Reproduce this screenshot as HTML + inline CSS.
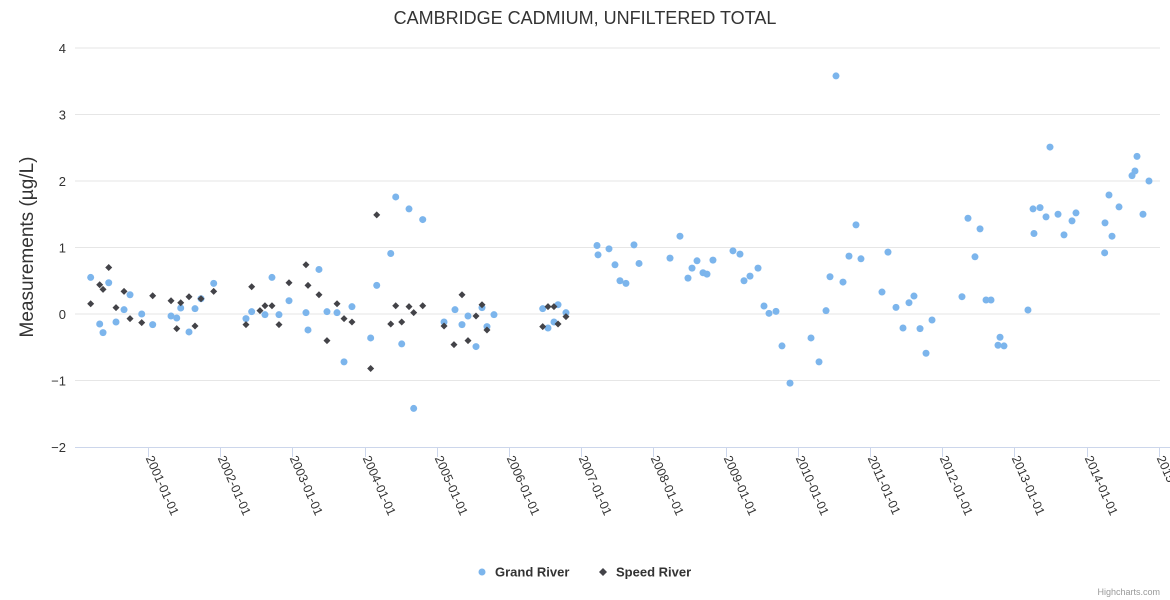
<!DOCTYPE html>
<html><head><meta charset="utf-8"><style>
body{margin:0;background:#fff;}
svg{display:block;font-family:"Liberation Sans","DejaVu Sans",sans-serif;}
</style></head><body>
<svg id="chart" width="1170" height="600" xmlns="http://www.w3.org/2000/svg">
<rect width="1170" height="600" fill="#fff"/>
<text x="585" y="24" text-anchor="middle" font-size="18" fill="#333">CAMBRIDGE CADMIUM, UNFILTERED TOTAL</text>
<text transform="translate(33,247) rotate(-90)" text-anchor="middle" font-size="19" fill="#333">Measurements (µg/L)</text>
<g id="grid"></g><g id="xaxis"></g><g id="marks"></g>
<g>
<g><circle cx="482" cy="572" r="3.5" fill="#7cb5ec"/><text x="495" y="576.5" font-size="13" font-weight="bold" fill="#333">Grand River</text></g>
<g><path d="M603 568 L607 572 L603 576 L599 572Z" fill="#434348"/><text x="616" y="576.5" font-size="13" font-weight="bold" fill="#333">Speed River</text></g>
</g>
<text x="1160" y="595" text-anchor="end" font-size="9" fill="#999">Highcharts.com</text>
</svg>
<script>
const yTicks=[-2,-1,0,1,2,3,4];
const xTickYears=[2001,2002,2003,2004,2005,2006,2007,2008,2009,2010,2011,2012,2013,2014,2015];
const grandX=[2000.206,2000.331,2000.377,2000.456,2000.557,2000.668,2000.751,2000.913,2001.065,2001.319,2001.398,2001.453,2001.568,2001.651,2001.734,2001.91,2002.357,2002.436,2002.62,2002.717,2002.814,2002.953,2003.188,2003.216,2003.368,2003.479,2003.618,2003.715,2003.825,
2004.084,2004.168,2004.362,2004.431,2004.514,2004.615,2004.680,2004.805,2005.100,2005.252,2005.349,2005.432,2005.543,2005.626,2005.695,2005.792,2006.467,2006.540,2006.623,2006.679,2006.789,2007.219,2007.233,2007.385,2007.468,2007.537,2007.620,2007.731,2007.801,
2008.230,2008.368,2008.479,2008.535,2008.604,2008.687,2008.742,2008.825,2009.102,2009.199,2009.255,2009.338,2009.449,2009.532,2009.601,2009.698,2009.781,2009.892,2010.183,2010.294,2010.391,2010.446,2010.529,2010.626,2010.709,2010.806,2010.875,
2011.166,2011.249,2011.360,2011.457,2011.540,2011.609,2011.693,2011.776,2011.859,2012.274,2012.357,2012.454,2012.524,2012.607,2012.676,2012.773,2012.801,2012.856,2013.188,2013.258,2013.271,2013.355,2013.438,2013.493,2013.604,2013.687,2013.798,2013.853,
2014.25,2014.255,2014.310,2014.352,2014.449,2014.629,2014.670,2014.698,2014.781,2014.864];
const grandY=[0.55,-0.15,-0.28,0.47,-0.12,0.065,0.29,0,-0.16,-0.03,-0.06,0.09,-0.27,0.08,0.23,0.46,-0.07,0.035,-0.01,0.55,-0.01,0.2,0.02,-0.24,0.67,0.035,0.02,-0.72,0.11,
-0.36,0.43,0.91,1.76,-0.45,1.58,-1.42,1.42,-0.12,0.065,-0.16,-0.03,-0.49,0.095,-0.19,-0.01,0.08,-0.21,-0.12,0.14,0.02,1.03,0.89,0.98,0.74,0.5,0.46,1.04,0.76,
0.84,1.17,0.54,0.69,0.8,0.62,0.6,0.81,0.95,0.9,0.5,0.57,0.69,0.12,0.01,0.04,-0.48,-1.04,-0.36,-0.72,0.05,0.56,3.58,0.48,0.87,1.34,0.83,
0.33,0.93,0.1,-0.21,0.17,0.27,-0.22,-0.59,-0.09,0.26,1.44,0.86,1.28,0.21,0.21,-0.47,-0.35,-0.48,0.06,1.58,1.21,1.6,1.46,2.51,1.5,1.19,1.4,1.52,
0.92,1.37,1.79,1.17,1.61,2.08,2.15,2.37,1.5,2.0];
const speedX=[2000.206,2000.331,2000.377,2000.456,2000.557,2000.668,2000.751,2000.913,2001.065,2001.319,2001.398,2001.453,2001.568,2001.651,2001.734,2001.91,2002.357,2002.436,2002.551,2002.62,2002.717,2002.814,2002.953,2003.188,2003.216,2003.368,2003.479,2003.618,2003.715,2003.825,
2004.084,2004.168,2004.362,2004.431,2004.514,2004.615,2004.680,2004.805,2005.100,2005.238,2005.349,2005.432,2005.543,2005.626,2005.695,2006.467,2006.540,2006.623,2006.679,2006.789];
const speedY=[0.155,0.44,0.37,0.7,0.095,0.34,-0.07,-0.13,0.275,0.2,-0.22,0.17,0.26,-0.18,0.23,0.34,-0.16,0.41,0.05,0.125,0.125,-0.16,0.47,0.74,0.43,0.29,-0.4,0.155,-0.07,-0.12,
-0.82,1.49,-0.15,0.125,-0.12,0.11,0.02,0.125,-0.18,-0.46,0.29,-0.4,-0.03,0.14,-0.24,-0.19,0.11,0.11,-0.15,-0.04];
const NS="http://www.w3.org/2000/svg";
const L=75,R=1160,y0=314,ypu=66.5,x2001=148,xpy=72.2;
const sx=v=>x2001+(v-2001)*xpy, sy=v=>y0-v*ypu;
function mk(t,a,p){const e=document.createElementNS(NS,t);for(const k in a)e.setAttribute(k,a[k]);p.appendChild(e);return e;}
const grid=document.getElementById('grid'),xa=document.getElementById('xaxis'),marks=document.getElementById('marks');
yTicks.forEach(v=>{
  if(v!==-2){const g=mk('line',{x1:L,x2:R,y1:sy(v),y2:sy(v),stroke:'#e6e6e6','stroke-width':1},grid);
  
  }
  const t=mk('text',{x:66,y:sy(v)+5,'text-anchor':'end','font-size':13,fill:'#333'},grid);
  t.textContent=v===-2?'−2':(v<0?'−'+(-v):v);
  
  
});
const ax=mk('line',{x1:L,x2:1170,y1:447.5,y2:447.5,stroke:'#ccd6eb','stroke-width':1},xa);


xTickYears.forEach(yv=>{
  const x=Math.round(sx(yv))+0.5;
  const tk=mk('line',{x1:x,x2:x,y1:447,y2:457,stroke:'#ccd6eb'},xa);
  
  
  const t=mk('text',{transform:`translate(${x-3},${458}) rotate(66)`,'font-size':12.5,fill:'#333'},xa);
  t.textContent=yv+'-01-01';
  
  
});
grandX.forEach((d,i)=>{
  const c=mk('circle',{cx:sx(d),cy:sy(grandY[i]),r:3.5,fill:'#7cb5ec'},marks);
  
  
});
speedX.forEach((d,i)=>{
  const x=sx(d),y=sy(speedY[i]);
  const p=mk('path',{d:`M${x} ${y-3.5}L${x+3.5} ${y}L${x} ${y+3.5}L${x-3.5} ${y}Z`,fill:'#434348'},marks);
  
  
});
</script>
</body></html>
